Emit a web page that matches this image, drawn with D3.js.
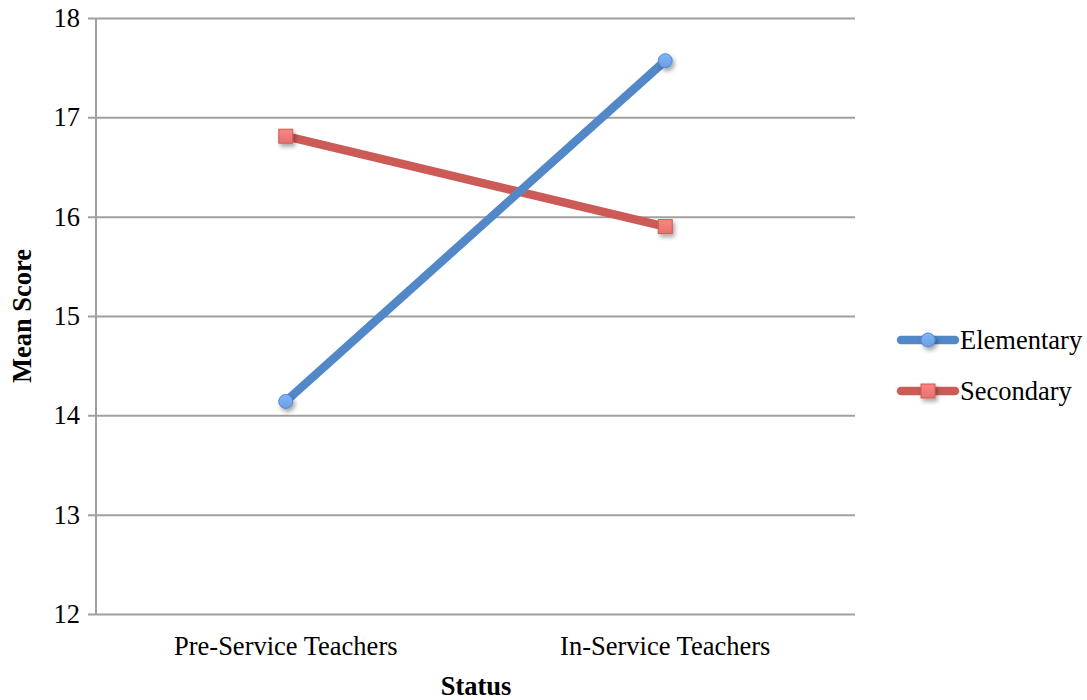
<!DOCTYPE html>
<html>
<head>
<meta charset="utf-8">
<script src="https://cdn.jsdelivr.net/npm/d3@7"></script>
<style>
  body { margin: 0; background: #fff; }
  svg text { font-family: "Liberation Serif", "Times New Roman", serif; fill: #000; }
</style>
</head>
<body>
<svg id="chart" width="1087" height="700"></svg>
<script>
var categories = ['Pre-Service Teachers', 'In-Service Teachers'];
var seriesNames = ['Elementary', 'Secondary'];
var elementary = [14.14, 17.57];
var secondary = [16.81, 15.9];
var yTicks = [12, 13, 14, 15, 16, 17, 18];

var series = [
    { name: seriesNames[0], values: elementary, color: '#5288c8', fill: '#6d9de0', shape: 'circle' },
    { name: seriesNames[1], values: secondary, color: '#cc5b57', fill: '#e07370', shape: 'square' }
];

var svg = d3.select('#chart');
var plotLeft = 96, plotRight = 855, plotTop = 18, plotBottom = 614;
var fontSize = 26.5;

var x = d3.scaleBand().domain(categories).range([plotLeft, plotRight]);
var y = d3.scaleLinear().domain([12, 18]).range([plotBottom, plotTop]);

// gradient + shadow defs
var defs = svg.append('defs');
var shadow = defs.append('filter').attr('id', 'shadow').attr('x', '-50%').attr('y', '-50%').attr('width', '200%').attr('height', '200%');
shadow.append('feDropShadow').attr('dx', 2).attr('dy', 3).attr('stdDeviation', 2).attr('flood-color', '#000').attr('flood-opacity', 0.35);
series.forEach(function (s, i) {
    var g = defs.append('linearGradient').attr('id', 'grad' + i).attr('x1', 0).attr('y1', 0).attr('x2', 0).attr('y2', 1);
    g.append('stop').attr('offset', '0%').attr('stop-color', d3.color(s.fill).brighter(0.4));
    g.append('stop').attr('offset', '100%').attr('stop-color', s.fill);
});

// gridlines + ticks
var yAxis = d3.axisLeft(y).tickValues(yTicks).tickFormat(d3.format('d')).tickSize(-(plotRight - plotLeft)).tickPadding(16);
var gy = svg.append('g').attr('transform', 'translate(' + plotLeft + ',0)').call(yAxis);
gy.select('.domain').remove();
gy.selectAll('.tick line').attr('stroke', '#a0a0a0').attr('stroke-width', 2).attr('x1', -8);
gy.selectAll('.tick text').attr('font-size', fontSize).attr('font-family', '"Liberation Serif", serif');

// y axis line
svg.append('line').attr('x1', plotLeft).attr('x2', plotLeft).attr('y1', plotTop).attr('y2', plotBottom)
    .attr('stroke', '#a0a0a0').attr('stroke-width', 2);

// x labels
var xAxis = d3.axisBottom(x).tickSize(0).tickPadding(22);
var gx = svg.append('g').attr('transform', 'translate(0,' + plotBottom + ')').call(xAxis);
gx.select('.domain').remove();
gx.selectAll('.tick text').attr('font-size', fontSize).attr('font-family', '"Liberation Serif", serif');

// axis titles
svg.append('text').attr('x', 476).attr('y', 695).attr('text-anchor', 'middle')
    .attr('font-size', fontSize).attr('font-weight', 'bold').text('Status');
svg.append('text').attr('transform', 'translate(31,316) rotate(-90)').attr('text-anchor', 'middle')
    .attr('font-size', fontSize).attr('font-weight', 'bold').text('Mean Score');

function drawMarker(g, s, i, cx, cy) {
    if (s.shape === 'circle') {
        g.append('circle').attr('cx', cx).attr('cy', cy).attr('r', 7)
            .attr('fill', 'url(#grad' + i + ')').attr('stroke', s.color).attr('stroke-width', 1)
            .attr('filter', 'url(#shadow)');
    } else {
        g.append('rect').attr('x', cx - 7).attr('y', cy - 7).attr('width', 14).attr('height', 14)
            .attr('fill', 'url(#grad' + i + ')').attr('stroke', s.color).attr('stroke-width', 1)
            .attr('filter', 'url(#shadow)');
    }
}

var line = d3.line()
    .x(function (d, i) { return x(categories[i]) + x.bandwidth() / 2; })
    .y(function (d) { return y(d); });

// secondary first so elementary sits on top
[1, 0].forEach(function (i) {
    var s = series[i];
    var g = svg.append('g');
    g.append('path').datum(s.values).attr('d', line)
        .attr('fill', 'none').attr('stroke', s.color).attr('stroke-width', 8.5).attr('stroke-linecap', 'round');
    s.values.forEach(function (v, j) {
        drawMarker(g, s, i, x(categories[j]) + x.bandwidth() / 2, y(v));
    });
});

// legend
series.forEach(function (s, i) {
    var ly = 340 + i * 51;
    var g = svg.append('g');
    g.append('line').attr('x1', 901).attr('x2', 955).attr('y1', ly).attr('y2', ly)
        .attr('stroke', s.color).attr('stroke-width', 8.5).attr('stroke-linecap', 'round');
    drawMarker(g, s, i, 928, ly);
    g.append('text').attr('x', 960).attr('y', ly + 9).attr('font-size', fontSize).text(s.name);
});
</script>
</body>
</html>
